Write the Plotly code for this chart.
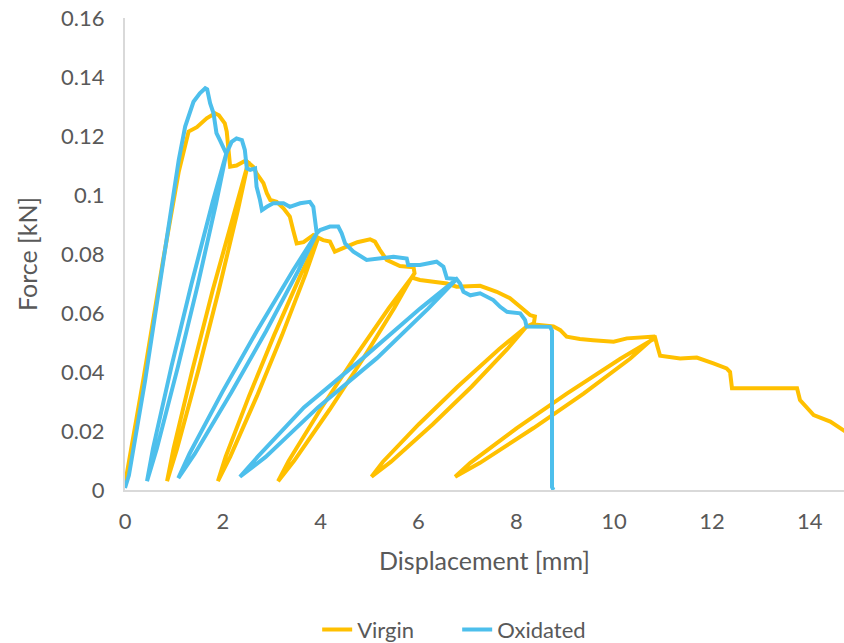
import plotly.graph_objects as go

# Virgin specimen: displacement [mm] / force [kN]
virgin_x = [0.0, 0.37, 0.78, 1.1, 1.30, 1.47, 1.67, 1.84, 1.92, 2.04, 2.08, 2.11, 2.15, 2.28, 2.45, 2.52,
            2.307, 1.918, 1.503, 1.062, 0.86, 0.99, 1.379, 1.794, 2.235, 2.52,
            2.62, 2.69, 2.83, 2.90, 2.97, 3.10, 3.24, 3.37, 3.44, 3.51, 3.65, 3.85, 3.95,
            3.690, 3.211, 2.699, 2.152, 1.90, 2.058, 2.537, 3.049, 3.596, 3.95,
            4.05, 4.19, 4.29, 4.53, 4.75, 5.01, 5.11, 5.21, 5.35, 5.62, 5.90, 5.92, 5.86,
            5.506, 4.863, 4.181, 3.458, 3.13, 3.348, 3.991, 4.673, 5.396, 5.86,
            6.03, 6.37, 6.58, 6.78, 6.92, 7.26, 7.60, 7.87, 8.08, 8.28, 8.38, 8.36, 8.21,
            7.818, 7.085, 6.293, 5.440, 5.04, 5.274, 6.007, 6.799, 7.652, 8.21,
            8.42, 8.76, 8.90, 9.03, 9.30, 9.57, 9.99, 10.26, 10.60, 10.84,
            10.326, 9.375, 8.353, 7.258, 6.75, 7.06, 8.011, 9.033, 10.128, 10.84,
            10.88, 10.94, 11.35, 11.69, 12.03, 12.30, 12.37, 12.41, 13.05, 13.74, 13.80, 14.08, 14.42, 14.66, 14.8]
virgin_y = [0.002, 0.037, 0.078, 0.108, 0.1215, 0.123, 0.126, 0.1277, 0.127, 0.1243, 0.1215, 0.1164, 0.1096, 0.110, 0.1115, 0.111,
            0.0948, 0.0678, 0.0408, 0.0138, 0.003, 0.0138, 0.0408, 0.0678, 0.0948, 0.111,
            0.1096, 0.1073, 0.104, 0.1006, 0.0983, 0.0977, 0.0955, 0.0927, 0.088, 0.0836, 0.084, 0.0864, 0.0855,
            0.0731, 0.0525, 0.0319, 0.0113, 0.003, 0.0113, 0.0319, 0.0525, 0.0731, 0.0855,
            0.0847, 0.0842, 0.0808, 0.0825, 0.084, 0.085, 0.0842, 0.0814, 0.078, 0.0759, 0.0755, 0.0735, 0.072,
            0.0617, 0.0444, 0.0272, 0.0099, 0.003, 0.0099, 0.0272, 0.0444, 0.0617, 0.072,
            0.0712, 0.0706, 0.070, 0.0689, 0.0689, 0.0692, 0.0672, 0.065, 0.0621, 0.0593, 0.0588, 0.0565, 0.0554,
            0.0478, 0.035, 0.0223, 0.0096, 0.0045, 0.0096, 0.0223, 0.035, 0.0478, 0.0554,
            0.056, 0.0554, 0.0542, 0.052, 0.0512, 0.0508, 0.0503, 0.0514, 0.0518, 0.052,
            0.0445, 0.0327, 0.021, 0.0092, 0.0045, 0.0092, 0.021, 0.0327, 0.0445, 0.0515,
            0.049, 0.0455, 0.0446, 0.0449, 0.0429, 0.0412, 0.040, 0.0345, 0.0345, 0.0345, 0.0305, 0.0254, 0.0232, 0.0203, 0.019]

# Oxidated specimen
oxid_x = [0.0, 0.08, 0.41, 0.78, 1.1, 1.23, 1.30, 1.40, 1.53, 1.64, 1.68, 1.74, 1.81, 1.87, 1.94, 2.04, 2.07,
          1.866, 1.489, 1.084, 0.651, 0.45, 0.573, 0.95, 1.355, 1.788, 2.07,
          2.18, 2.28, 2.39, 2.45, 2.49, 2.56, 2.66, 2.69, 2.76, 2.80, 2.90, 3.03, 3.24, 3.37, 3.58, 3.78, 3.85, 3.89, 3.92,
          3.551, 2.883, 2.176, 1.428, 1.09, 1.318, 1.986, 2.693, 3.441, 3.92,
          3.99, 4.19, 4.36, 4.43, 4.50, 4.67, 4.94, 5.21, 5.49, 5.76, 5.79, 6.03, 6.37, 6.51, 6.58, 6.78,
          6.199, 5.151, 3.944, 2.876, 2.35, 2.71, 3.658, 4.865, 6.033, 6.78,
          6.85, 6.92, 7.06, 7.26, 7.53, 7.67, 7.81, 8.08, 8.18, 8.21, 8.34, 8.69, 8.73, 8.73, 8.76]
oxid_y = [0.0007, 0.005, 0.037, 0.078, 0.112, 0.1232, 0.127, 0.1316, 0.1345, 0.1362, 0.1358, 0.1311, 0.1277, 0.121, 0.1186, 0.1147, 0.114,
          0.0974, 0.0696, 0.0419, 0.0141, 0.003, 0.0141, 0.0419, 0.0696, 0.0974, 0.114,
          0.118, 0.1192, 0.1186, 0.1153, 0.109, 0.1085, 0.109, 0.1028, 0.0983, 0.0949, 0.096, 0.0972, 0.0972, 0.096, 0.0972, 0.0977, 0.096, 0.0893, 0.087,
          0.0746, 0.0538, 0.0331, 0.0123, 0.004, 0.0123, 0.0331, 0.0538, 0.0746, 0.087,
          0.0881, 0.0893, 0.0893, 0.087, 0.0836, 0.0808, 0.078, 0.0785, 0.0791, 0.0785, 0.0763, 0.0763, 0.0774, 0.0757, 0.0718, 0.0715,
          0.0615, 0.0447, 0.028, 0.0112, 0.0045, 0.0112, 0.028, 0.0447, 0.0615, 0.0715,
          0.070, 0.0672, 0.066, 0.0667, 0.0644, 0.0621, 0.0604, 0.0599, 0.0576, 0.0554, 0.0553, 0.0553, 0.054, 0.001, 0.0]

x_ticks = [0, 2, 4, 6, 8, 10, 12, 14]
y_ticks = [0, 0.02, 0.04, 0.06, 0.08, 0.1, 0.12, 0.14, 0.16]
y_tick_text = ["0", "0.02", "0.04", "0.06", "0.08", "0.1", "0.12", "0.14", "0.16"]

FONT = "Lato"
GREY = "#595959"

fig = go.Figure()
fig.add_trace(go.Scatter(x=virgin_x, y=virgin_y, mode="lines", name="Virgin",
                         line=dict(color="#FFC000", width=4)))
fig.add_trace(go.Scatter(x=oxid_x, y=oxid_y, mode="lines", name="Oxidated",
                         line=dict(color="#4DBFEC", width=4)))

fig.update_layout(
    width=844, height=643,
    margin=dict(l=125, r=0, t=18, b=153, autoexpand=False),
    paper_bgcolor="white", plot_bgcolor="white",
    font=dict(family=FONT, color=GREY, size=22),
    showlegend=True,
    legend=dict(orientation="h", x=0.462, xanchor="center", y=-0.296, yanchor="middle",
                font=dict(family=FONT, size=22, color=GREY), tracegroupgap=0,
                entrywidth=95, entrywidthmode="pixels",
                bgcolor="rgba(0,0,0,0)"),
)
fig.update_xaxes(range=[0, 14.7], tickvals=x_ticks, showgrid=False, zeroline=False,
                 showline=True, linecolor="#D9D9D9", linewidth=2, ticks="",
                 ticklabelstandoff=11, automargin=False, tickfont=dict(size=22),
                 ticklabeloverflow="allow",
                 title=dict(text="Displacement [mm]", font=dict(size=25, color=GREY), standoff=19))
fig.update_yaxes(range=[0, 0.16], tickvals=y_ticks, ticktext=y_tick_text, showgrid=False, zeroline=False,
                 showline=True, linecolor="#D9D9D9", linewidth=2, ticks="",
                 ticklabelstandoff=14, automargin=False, tickfont=dict(size=22),
                 ticklabeloverflow="allow",
                 title=dict(text="Force [kN]", font=dict(size=25, color=GREY), standoff=16))

# remove the default 8px page margin so the figure fills the window exactly
fig.write_html("out.html", config={"displayModeBar": False},
               post_script="document.body.style.margin='0px';")
